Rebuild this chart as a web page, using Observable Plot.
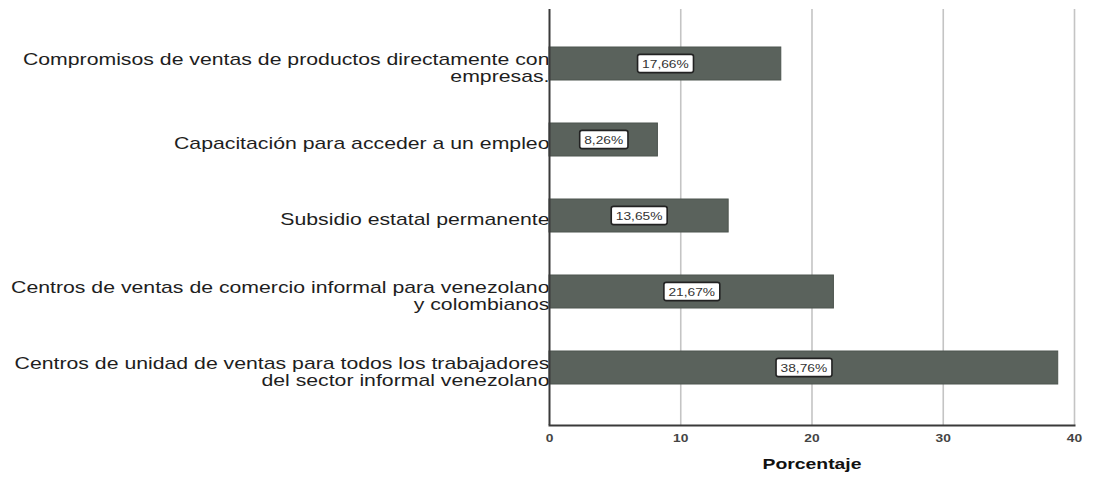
<!DOCTYPE html>
<html>
<head>
<meta charset="utf-8">
<script src="https://cdn.jsdelivr.net/npm/d3@7"></script>
<script src="https://cdn.jsdelivr.net/npm/@observablehq/plot@0.6"></script>
<style>
  html, body { margin: 0; padding: 0; background: #fff; }
  #chart svg { display: block; }
</style>
</head>
<body>
<div id="chart"></div>
<script>
const categories = [
  "Compromisos de ventas de productos directamente con\nempresas.",
  "Capacitación para acceder a un empleo",
  "Subsidio estatal permanente",
  "Centros de ventas de comercio informal para venezolano\ny colombianos",
  "Centros de unidad de ventas para todos los trabajadores\ndel sector informal venezolano"
];
const values = [17.66, 8.26, 13.65, 21.67, 38.76];
const valueLabels = ["17,66%", "8,26%", "13,65%", "21,67%", "38,76%"];
const xTicks = [0, 10, 20, 30, 40];
const gridTicks = [10, 20, 30, 40];
const axisTitle = "Porcentaje";

const rows = categories.map((c, i) => ({cat: c, value: values[i], label: valueLabels[i]}));
const FONT = "'Liberation Sans', Arial, Helvetica, sans-serif";
const STRETCH = 1.25;

const chart = Plot.plot({
  width: 1093,
  height: 482,
  marginLeft: 549,
  marginRight: 19,
  marginTop: 9,
  marginBottom: 57,
  style: {fontFamily: FONT, fontSize: "11px", background: "#fff", color: "#222"},
  x: {domain: [0, 40], axis: null},
  y: {domain: categories, axis: null, insetTop: 38, insetBottom: 41, paddingInner: 0.566, paddingOuter: 0},
  marks: [
    Plot.ruleX(gridTicks, {stroke: "#c4c4c4", strokeWidth: 1.6}),
    Plot.text(rows, {y: "cat", text: "cat", frameAnchor: "left", textAnchor: "end", dx: 0, dy: 4,
      fontSize: 17, lineHeight: 0.97, fill: "#1e1e1e"}),
    Plot.barX(rows, {x: "value", y: "cat", fill: "#5a625c", stroke: "#4c544e", strokeWidth: 1}),
    Plot.text(rows, {x: d => d.value / 2, y: "cat", text: "label", fontSize: 11, fill: "#333"}),
    Plot.ruleX([0], {stroke: "#3a3a3a", strokeWidth: 2}),
    Plot.frame({anchor: "bottom", stroke: "#3a3a3a", strokeWidth: 2}),
    Plot.axisX({ticks: xTicks, tickSize: 0, tickPadding: 9, label: null, fontWeight: "bold",
      fill: "#444", fontSize: 11, tickFormat: d => String(d)}),
    Plot.text([axisTitle], {frameAnchor: "bottom", dy: 43, fontWeight: "bold", fontSize: 15.5,
      fill: "#111"})
  ]
});

document.getElementById("chart").appendChild(chart);

// Boxes behind value labels
const svg = d3.select(chart);
const labelSet = new Set(valueLabels);
svg.selectAll("text").each(function() {
  if (!labelSet.has(this.textContent.trim())) return;
  const bb = this.getBBox();
  const padX = 3.6, padY = 3.6;
  const rect = document.createElementNS("http://www.w3.org/2000/svg", "rect");
  rect.setAttribute("x", bb.x - padX);
  rect.setAttribute("y", bb.y - padY + 0.5);
  rect.setAttribute("width", bb.width + 2 * padX);
  rect.setAttribute("height", bb.height + 2 * padY - 1);
  rect.setAttribute("rx", 2);
  rect.setAttribute("fill", "#fff");
  rect.setAttribute("stroke", "#222");
  rect.setAttribute("stroke-width", 1.6);
  rect.setAttribute("vector-effect", "non-scaling-stroke");
  this.__box = rect;
  this.parentNode.insertBefore(rect, this);
});

// Horizontal stretch of all text (the reference is widened)
svg.selectAll("text").each(function() {
  const x = +this.getAttribute("x") || 0;
  const y = +this.getAttribute("y") || 0;
  const tr = this.getAttribute("transform") || "";
  const nt = `${tr} translate(${x},${y}) scale(${STRETCH},1) translate(${-x},${-y})`;
  this.setAttribute("transform", nt);
  if (this.__box) this.__box.setAttribute("transform", nt);
});
</script>
</body>
</html>
